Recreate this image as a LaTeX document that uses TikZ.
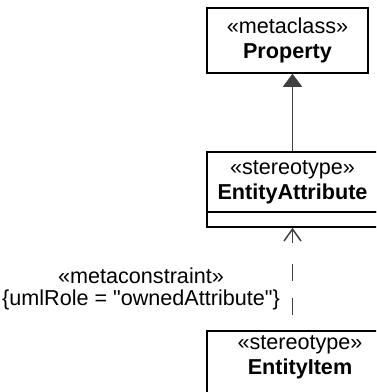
\documentclass[tikz,border=0pt]{standalone}
\usepackage{fontspec}
\setmainfont{Liberation Sans}[Ligatures=TeXOff]
\usetikzlibrary{arrows.meta, positioning}
\definecolor{umlgray}{RGB}{64,64,64}

\begin{document}
\begin{tikzpicture}[x=1pt, y=-1pt,
  box/.style={draw, line width=1.5pt, align=center, inner sep=0pt,
              font=\fontsize{21.6}{25}\selectfont},
  gen/.style={-{Triangle[length=13pt, width=19pt]}, line width=1.6pt, umlgray},
  dep/.style={{Straight Barb[length=12pt, width=17pt]}-, line width=1.5pt, umlgray,
              dash pattern=on 13pt off 21pt on 17pt off 17pt on 17pt off 16pt on 6pt}
]
  \useasboundingbox (0,0) rectangle (376,392);
  \clip (0,0) rectangle (376,392);

  %% Classes
  \node[box, minimum width=161pt, minimum height=65pt] (prop) at (287.5,40.5)
    {«metaclass»\\\textbf{Property}};
  \node[box, minimum width=171pt, minimum height=60pt] (attr) at (292.5,182)
    {«stereotype»\\\textbf{EntityAttribute}};
  \node[box, minimum width=171pt, minimum height=15pt] (attrops) at (292.5,219.5) {};
  \node[box, anchor=north, minimum width=186pt, inner ysep=5pt, text depth=60pt] (item) at (300,330)
    {«stereotype»\\\textbf{EntityItem}};

  %% Connectors
  \draw[gen] (attr.north) -- (attr.north |- prop.south);
  \draw[dep] (attrops.south) -- (attrops.south |- item.north);

  %% Constraint label
  \node[font=\fontsize{21.6}{22}\selectfont, align=center] (cons) at (141,289)
    {«metaconstraint»\\\{umlRole = "ownedAttribute"\}};
\end{tikzpicture}
\end{document}
